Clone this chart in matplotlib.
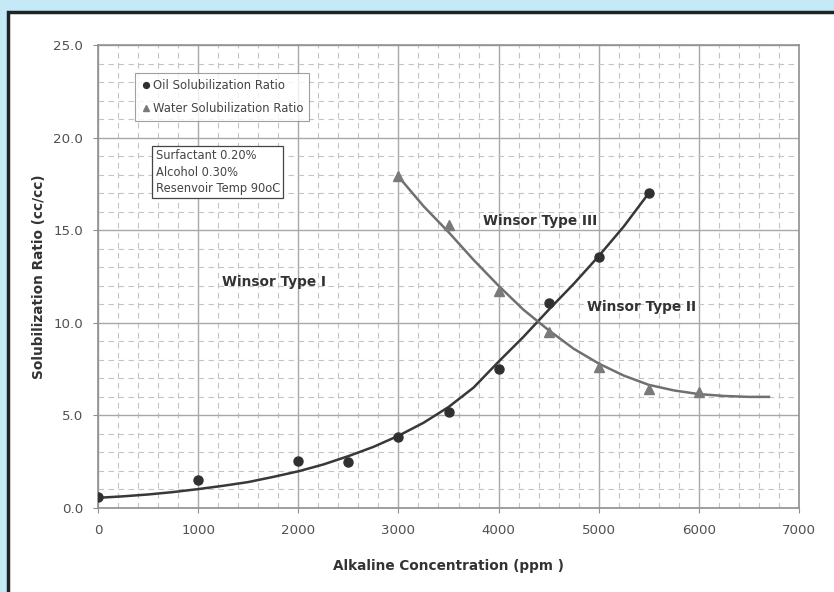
import numpy as np
import matplotlib
matplotlib.use('Agg')
import matplotlib.pyplot as plt
from matplotlib.patches import Rectangle
from matplotlib.ticker import MultipleLocator, FormatStrFormatter

# measured points
oil_x = [0, 1000, 2000, 2500, 3000, 3500, 4000, 4500, 5000, 5500]
oil_y = [0.6, 1.5, 2.55, 2.5, 3.85, 5.2, 7.5, 11.05, 13.55, 17.0]
water_x = [3000, 3500, 4000, 4500, 5000, 5500, 6000]
water_y = [17.9, 15.3, 11.7, 9.5, 7.6, 6.4, 6.25]

# trend lines
oil_fit_x = [0, 250, 500, 750, 1000, 1250, 1500, 1750, 2000, 2250, 2500, 2750,
             3000, 3250, 3500, 3750, 4000, 4250, 4500, 4750, 5000, 5250, 5500]
oil_fit_y = [0.55, 0.63, 0.73, 0.86, 1.02, 1.2, 1.4, 1.68, 1.98, 2.35, 2.8, 3.3,
             3.9, 4.6, 5.45, 6.5, 7.9, 9.25, 10.7, 12.1, 13.6, 15.2, 17.0]
water_fit_x = [3000, 3250, 3500, 3750, 4000, 4250, 4500, 4750, 5000, 5250,
               5500, 5750, 6000, 6250, 6500, 6700]
water_fit_y = [17.9, 16.3, 14.9, 13.4, 12.0, 10.7, 9.6, 8.6, 7.8, 7.15,
               6.65, 6.35, 6.15, 6.05, 6.0, 6.0]

fig = plt.figure(figsize=(8.34, 5.92), dpi=100)
fig.patch.set_facecolor('#c6e9f8')
# white panel with black border
fig.add_artist(Rectangle((8/834, -0.05), 1.1, 1 - 12/592 + 0.05, transform=fig.transFigure,
                         facecolor='white', edgecolor='#222222', linewidth=2.5, zorder=-10))

ax = fig.add_axes([98/834, 1 - 508/592, 701/834, 463/592])
ax.set_xlim(0, 7000)
ax.set_ylim(0, 25)
ax.xaxis.set_major_locator(MultipleLocator(1000))
ax.xaxis.set_minor_locator(MultipleLocator(200))
ax.yaxis.set_major_locator(MultipleLocator(5))
ax.yaxis.set_minor_locator(MultipleLocator(1))
ax.yaxis.set_major_formatter(FormatStrFormatter('%.1f'))
ax.grid(which='major', color='#a8a8a8', linewidth=1.0, linestyle='-')
ax.grid(which='minor', color='#c4c4c4', linewidth=0.8, linestyle=(0, (5, 4)))
ax.set_axisbelow(True)
for s in ax.spines.values():
    s.set_color('#909090')
    s.set_linewidth(1.2)
ax.tick_params(which='major', length=3.6, color='#909090', labelsize=9.6, labelcolor='#505050')
ax.tick_params(which='minor', length=0)
ax.tick_params(axis='x', pad=8)
ax.tick_params(axis='y', pad=7)

ax.plot(oil_fit_x, oil_fit_y, color='#383838', linewidth=1.8, zorder=3)
ax.plot(water_fit_x, water_fit_y, color='#707070', linewidth=1.8, zorder=3)
ax.plot(oil_x, oil_y, 'o', color='#303030', markersize=6.5, zorder=4,
        label='Oil Solubilization Ratio')
ax.plot(water_x, water_y, '^', color='#7a7a7a', markersize=7, zorder=4,
        label='Water Solubilization Ratio')

leg = ax.legend(loc='upper left', bbox_to_anchor=(37/701, 435/463), borderaxespad=0,
                fontsize=8.4, frameon=True, fancybox=False, handletextpad=0.25,
                handlelength=0.8, markerscale=0.65, borderpad=0.5, labelspacing=0.85)
leg.get_frame().set_edgecolor('#888888')
leg.get_frame().set_linewidth(0.8)
for t in leg.get_texts():
    t.set_color('#444444')

ax.text(575, 16.9, 'Surfactant 0.20%\nAlcohol 0.30%\nResenvoir Temp 90oC',
        fontsize=8.3, color='#444444', linespacing=1.33, va='bottom', ha='left',
        bbox=dict(boxstyle='square,pad=0.3', facecolor='white', edgecolor='#444444',
                  linewidth=0.9), zorder=5)

ax.text(1240, 12.2, 'Winsor Type I', fontsize=9.8, fontweight='bold', color='#333333',
        va='center', ha='left', zorder=5)
ax.text(3846, 15.5, 'Winsor Type III', fontsize=9.8, fontweight='bold', color='#333333',
        va='center', ha='left', zorder=5)
ax.text(4885, 10.85, 'Winsor Type II', fontsize=9.8, fontweight='bold', color='#333333',
        va='center', ha='left', zorder=5)

ax.set_xlabel('Alkaline Concentration (ppm )', fontsize=9.8, fontweight='bold',
              color='#333333', labelpad=16)
ax.set_ylabel('Solubilization Ratio (cc/cc)', fontsize=9.8, fontweight='bold',
              color='#333333', labelpad=5)

fig.savefig('out.png', dpi=100, facecolor=fig.get_facecolor())
